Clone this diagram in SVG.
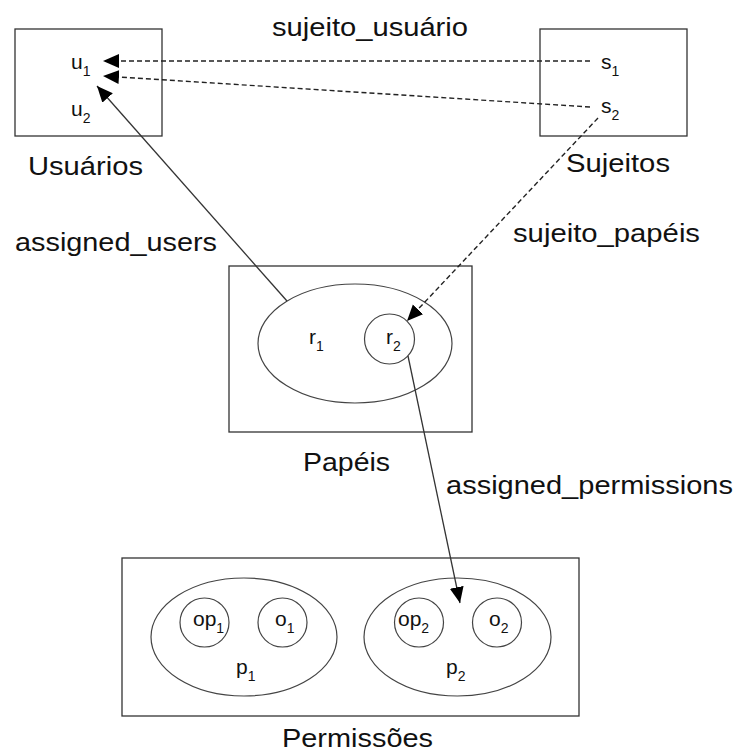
<svg xmlns="http://www.w3.org/2000/svg" width="739" height="754" viewBox="0 0 739 754">
<defs>
<style>
.box{fill:none;stroke:#333;stroke-width:1.3}
.ell{fill:none;stroke:#444;stroke-width:1.2}
.lbl{font-family:"Liberation Sans",Arial,sans-serif;font-size:26px;fill:#111}
.nd{font-family:"Liberation Sans",Arial,sans-serif;font-size:21px;fill:#111}
.sub{font-size:14px}
.line{fill:none;stroke:#333;stroke-width:1.3}
.dash{fill:none;stroke:#222;stroke-width:1.4;stroke-dasharray:5 3}
</style>
<marker id="ah" markerUnits="userSpaceOnUse" markerWidth="17" markerHeight="15" refX="16" refY="7" orient="auto">
<path d="M0,0 L16,7 L0,14 z" fill="#000"/>
</marker>
</defs>
<rect width="739" height="754" fill="#fff"/>

<g id="usuarios">
<rect class="box" x="15" y="29" width="147" height="107"/>
<text class="nd" x="71" y="69">u<tspan class="sub" dy="7">1</tspan></text>
<text class="nd" x="71" y="116">u<tspan class="sub" dy="7">2</tspan></text>
<text class="lbl" x="28" y="175" textLength="115" lengthAdjust="spacingAndGlyphs">Usuários</text>
</g>

<g id="sujeitos">
<rect class="box" x="540" y="29" width="147" height="107"/>
<text class="nd" x="601" y="69">s<tspan class="sub" dy="7">1</tspan></text>
<text class="nd" x="601" y="113">s<tspan class="sub" dy="7">2</tspan></text>
<text class="lbl" x="566" y="172" textLength="104" lengthAdjust="spacingAndGlyphs">Sujeitos</text>
</g>

<g id="papeis">
<rect class="box" x="229" y="266" width="243" height="166"/>
<ellipse class="ell" cx="355" cy="343.5" rx="97" ry="59.5"/>
<circle class="ell" cx="389.5" cy="339" r="25"/>
<text class="nd" x="309" y="344">r<tspan class="sub" dy="7">1</tspan></text>
<text class="nd" x="386" y="344">r<tspan class="sub" dy="7">2</tspan></text>
<text class="lbl" x="303" y="471" textLength="87" lengthAdjust="spacingAndGlyphs">Papéis</text>
</g>

<g id="permissoes">
<rect class="box" x="122" y="558" width="457" height="158"/>
<ellipse class="ell" cx="244" cy="637" rx="93" ry="59"/>
<circle class="ell" cx="204.5" cy="622.5" r="24.5"/>
<circle class="ell" cx="282.5" cy="622.5" r="24.5"/>
<text class="nd" x="193" y="626">op<tspan class="sub" dy="7">1</tspan></text>
<text class="nd" x="275" y="626">o<tspan class="sub" dy="7">1</tspan></text>
<text class="nd" x="236" y="674">p<tspan class="sub" dy="7">1</tspan></text>
<ellipse class="ell" cx="457.5" cy="637" rx="93.5" ry="59"/>
<circle class="ell" cx="419" cy="622.5" r="24.5"/>
<circle class="ell" cx="497" cy="622.5" r="24.5"/>
<text class="nd" x="398" y="626">op<tspan class="sub" dy="7">2</tspan></text>
<text class="nd" x="489" y="626">o<tspan class="sub" dy="7">2</tspan></text>
<text class="nd" x="446" y="674">p<tspan class="sub" dy="7">2</tspan></text>
<text class="lbl" x="282" y="747" textLength="151" lengthAdjust="spacingAndGlyphs">Permissões</text>
</g>

<g id="connectors">
<line class="dash" x1="590" y1="61" x2="103" y2="61" marker-end="url(#ah)"/>
<line class="dash" x1="590" y1="107" x2="103" y2="76" marker-end="url(#ah)"/>
<line class="line" x1="287" y1="301" x2="97" y2="86" marker-end="url(#ah)"/>
<line class="dash" x1="598" y1="118" x2="407" y2="321" marker-end="url(#ah)"/>
<line class="line" x1="408" y1="356" x2="460" y2="603" marker-end="url(#ah)"/>
<text class="lbl" x="272" y="36" textLength="196" lengthAdjust="spacingAndGlyphs">sujeito_usuário</text>
<text class="lbl" x="15" y="251" textLength="202" lengthAdjust="spacingAndGlyphs">assigned_users</text>
<text class="lbl" x="513" y="242" textLength="187" lengthAdjust="spacingAndGlyphs">sujeito_papéis</text>
<text class="lbl" x="446" y="494" textLength="287" lengthAdjust="spacingAndGlyphs">assigned_permissions</text>
</g>
</svg>
